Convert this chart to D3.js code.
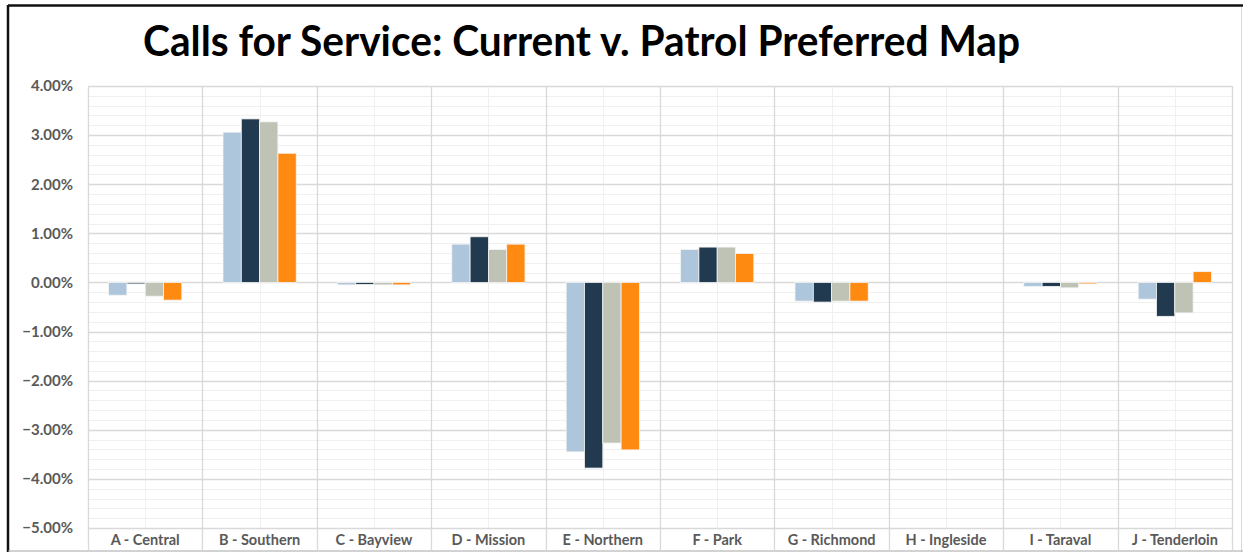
<!DOCTYPE html>
<html>
<head>
<meta charset="utf-8">
<script src="https://cdn.jsdelivr.net/npm/d3@7"></script>
<style>
  html, body { margin: 0; padding: 0; background: #fff; }
  svg { display: block; }
</style>
</head>
<body>
<svg id="chart" width="1243" height="552"></svg>
<script>
// District categories along the x axis
const categories = ["A - Central", "B - Southern", "C - Bayview", "D - Mission", "E - Northern",
                    "F - Park", "G - Richmond", "H - Ingleside", "I - Taraval", "J - Tenderloin"];

// Change in share of calls for service (percent), one array per map option
const series1 = [-0.26, 3.06, -0.05, 0.78, -3.45, 0.67, -0.38, 0, -0.08, -0.34];
const series2 = [-0.03, 3.33, -0.04, 0.93, -3.78, 0.72, -0.40, 0, -0.08, -0.69];
const series3 = [-0.28, 3.27, -0.05, 0.67, -3.27, 0.72, -0.38, 0, -0.11, -0.62];
const series4 = [-0.36, 2.63, -0.05, 0.78, -3.41, 0.59, -0.38, 0, -0.03, 0.22];

const seriesNames = ["series1", "series2", "series3", "series4"];
const seriesList = [series1, series2, series3, series4];
const seriesColors = ["#adc6dc", "#213a4f", "#bec3b5", "#ff8a12"];

// Y axis tick values (percent)
const yTicks = [4, 3, 2, 1, 0, -1, -2, -3, -4, -5];

const svg = d3.select("#chart");
const plot = { left: 88, right: 1232, top: 86, bottom: 528 };
const font = "Lato, 'Open Sans', 'Liberation Sans', sans-serif";

const y = d3.scaleLinear().domain([-5, 4]).range([plot.bottom, plot.top]);
const x0 = d3.scaleBand().domain(categories).range([plot.left, plot.right]).padding(0);
const x1 = d3.scaleBand().domain(seriesNames).range([0, x0.bandwidth()])
  .paddingInner(0).paddingOuter(1.125);

// Outer frame
svg.append("line").attr("x1", 8).attr("x2", 1243).attr("y1", 5.5).attr("y2", 5.5)
  .attr("stroke", "#111").attr("stroke-width", 2.5);
svg.append("line").attr("x1", 8).attr("x2", 8).attr("y1", 5).attr("y2", 552)
  .attr("stroke", "#111").attr("stroke-width", 2.5);
svg.append("line").attr("x1", 1241.5).attr("x2", 1241.5).attr("y1", 7).attr("y2", 552)
  .attr("stroke", "#d9d9d9").attr("stroke-width", 1);
svg.append("line").attr("x1", 8).attr("x2", 1243).attr("y1", 551).attr("y2", 551)
  .attr("stroke", "#a6a6a6").attr("stroke-width", 1.2);

// Title
svg.append("text")
  .attr("x", 143).attr("y", 56)
  .attr("font-family", font)
  .attr("font-weight", 700)
  .attr("font-size", 42)
  .attr("fill", "#000")
  .attr("textLength", 877)
  .attr("lengthAdjust", "spacingAndGlyphs")
  .text("Calls for Service: Current v. Patrol Preferred Map");

const grid = svg.append("g");

// Minor horizontal gridlines every 0.2%
const minorTicks = d3.range(-50, 41, 2).map(v => v / 10).filter(v => Math.abs(v - Math.round(v)) > 1e-6);
grid.selectAll("line.minor").data(minorTicks).join("line")
  .attr("class", "minor")
  .attr("x1", plot.left).attr("x2", plot.right)
  .attr("y1", d => Math.round(y(d)) + 0.5).attr("y2", d => Math.round(y(d)) + 0.5)
  .attr("stroke", "#f0f0f0").attr("stroke-width", 1);

// Minor vertical lines at category centres
grid.selectAll("line.mid").data(categories).join("line")
  .attr("class", "mid")
  .attr("x1", d => Math.round(x0(d) + x0.bandwidth() / 2) + 0.5)
  .attr("x2", d => Math.round(x0(d) + x0.bandwidth() / 2) + 0.5)
  .attr("y1", plot.top).attr("y2", plot.bottom)
  .attr("stroke", "#f0f0f0").attr("stroke-width", 1);

// Major horizontal gridlines
grid.selectAll("line.major").data(yTicks).join("line")
  .attr("class", "major")
  .attr("x1", plot.left).attr("x2", plot.right)
  .attr("y1", d => Math.round(y(d)) + 0.5).attr("y2", d => Math.round(y(d)) + 0.5)
  .attr("stroke", "#d9d9d9").attr("stroke-width", 1.3);

// Category separators, extending down through the label row
const edges = categories.map(c => x0(c)).concat([plot.right]);
grid.selectAll("line.sep").data(edges).join("line")
  .attr("class", "sep")
  .attr("x1", d => Math.round(d) + 0.5).attr("x2", d => Math.round(d) + 0.5)
  .attr("y1", plot.top).attr("y2", 551)
  .attr("stroke", "#d9d9d9").attr("stroke-width", 1.3);

// Bars
const groups = svg.append("g").selectAll("g").data(categories).join("g")
  .attr("transform", d => `translate(${x0(d)},0)`);

groups.selectAll("rect")
  .data((c, i) => seriesList.map((s, k) => ({ key: seriesNames[k], value: s[i], color: seriesColors[k] })))
  .join("rect")
  .attr("x", d => x1(d.key))
  .attr("width", x1.bandwidth())
  .attr("y", d => y(Math.max(0, d.value)))
  .attr("height", d => Math.abs(y(d.value) - y(0)))
  .attr("fill", d => d.color)
  .attr("stroke", "#f4f4f4")
  .attr("stroke-width", d => d.value === 0 ? 0 : 0.8);

// Y axis labels
const yAxis = d3.axisLeft(y).tickValues(yTicks)
  .tickFormat(d => d3.format(".2f")(d) + "%").tickSize(0).tickPadding(15);
const yg = svg.append("g").attr("transform", `translate(${plot.left},0)`).call(yAxis);
yg.select(".domain").remove();
yg.selectAll("text")
  .attr("font-family", font)
  .attr("font-weight", 700).attr("font-size", 15).attr("fill", "#595959");

// X axis labels
const xAxis = d3.axisBottom(x0).tickSize(0).tickPadding(7);
const xg = svg.append("g").attr("transform", `translate(0,${plot.bottom})`).call(xAxis);
xg.select(".domain").remove();
xg.selectAll("text")
  .attr("font-family", font)
  .attr("font-weight", 700).attr("font-size", 14.5).attr("fill", "#595959");
</script>
</body>
</html>
